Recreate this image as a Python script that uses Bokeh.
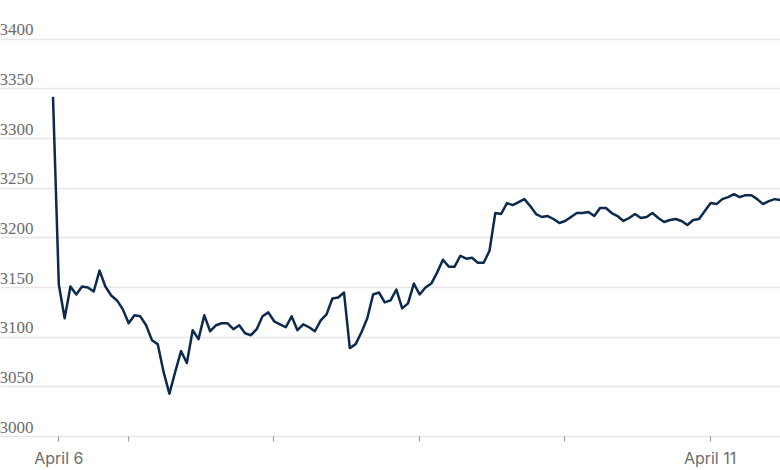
from bokeh.plotting import figure
from bokeh.models import Range1d, FixedTicker, CustomJSTickFormatter, LabelSet, ColumnDataSource
from bokeh.embed import file_html
from bokeh.resources import INLINE

# hourly-ish price series (April 6 - April 11)
prices = [3342, 3153, 3119, 3151, 3143, 3151, 3150, 3146, 3167, 3151,
          3142, 3137, 3128, 3114, 3122, 3121, 3112, 3097, 3093, 3065,
          3043, 3065, 3086, 3074, 3107, 3098, 3122, 3106, 3112, 3114,
          3114, 3108, 3112, 3104, 3102, 3108, 3121, 3125, 3116, 3113,
          3110, 3121, 3107, 3113, 3110, 3106, 3117, 3123, 3139, 3140,
          3145, 3089, 3093, 3105, 3119, 3143, 3145, 3135, 3137, 3148,
          3129, 3134, 3154, 3143, 3150, 3154, 3165, 3178, 3171, 3171,
          3182, 3179, 3180, 3175, 3175, 3187, 3225, 3224, 3235, 3233,
          3236, 3239, 3232, 3224, 3221, 3222, 3219, 3215, 3217, 3221,
          3225, 3225, 3226, 3222, 3230, 3230, 3225, 3222, 3217, 3220,
          3224, 3220, 3221, 3225, 3220, 3216, 3218, 3219, 3217, 3213,
          3218, 3219, 3227, 3235, 3234, 3239, 3241, 3244, 3241, 3243,
          3243, 3239, 3234, 3237, 3239, 3238]
idx = list(range(len(prices)))

day_ticks = [1.0, 12.9, 37.9, 62.9, 87.9, 112.9]
day_labels = ["April 6", "", "", "", "", "April 11"]

y_ticks = [3000, 3050, 3100, 3150, 3200, 3250, 3300, 3350, 3400]
y_labels = [str(v) for v in y_ticks]

GRAY_TXT = "#6c6c6c"
GRID = "#e6e6e6"
FONT = "Inter"

p = figure(width=780, height=470, output_backend="svg", toolbar_location=None,
           y_axis_location=None,
           x_range=Range1d(-9.02, 125.0), y_range=Range1d(3000, 3439),
           min_border_left=0, min_border_right=0, min_border_top=0,
           min_border_bottom=32)
p.outline_line_color = None
p.background_fill_color = "white"
p.border_fill_color = "white"

p.xgrid.visible = False
p.ygrid.ticker = FixedTicker(ticks=y_ticks)
p.ygrid.grid_line_color = GRID
p.ygrid.grid_line_width = 1.5

ax = p.xaxis[0]
ax.ticker = FixedTicker(ticks=day_ticks)
ax.formatter = CustomJSTickFormatter(args=dict(tvals=day_ticks, tlabs=day_labels), code="""
    let best = -1, bd = 1e9;
    for (let i = 0; i < tvals.length; i++) {
        const d = Math.abs(tvals[i] - tick);
        if (d < bd) { bd = d; best = i; }
    }
    return (best >= 0 && bd < 1e-6) ? tlabs[best] : "";
""")
ax.axis_line_color = GRID
ax.axis_line_width = 1.5
ax.major_tick_line_color = "#9a9a9a"
ax.major_tick_line_width = 1.2
ax.major_tick_out = 5
ax.major_tick_in = 0
ax.minor_tick_line_color = None
ax.major_label_standoff = 6
ax.major_label_text_font = FONT
ax.major_label_text_font_size = "16px"
ax.major_label_text_color = GRAY_TXT

lab_src = ColumnDataSource(dict(x=[-1] * len(y_ticks), y=y_ticks, text=y_labels))
labels = LabelSet(x="x", y="y", text="text", source=lab_src,
                  x_units="screen", y_units="data",
                  y_offset=4, text_baseline="bottom", text_align="left",
                  text_font=FONT, text_font_size="17px", text_color=GRAY_TXT)
p.add_layout(labels)

p.line(idx, prices, line_color="#0c2a4d", line_width=2.5, line_join="round")

open("out.html", "w").write(file_html(p, INLINE))
